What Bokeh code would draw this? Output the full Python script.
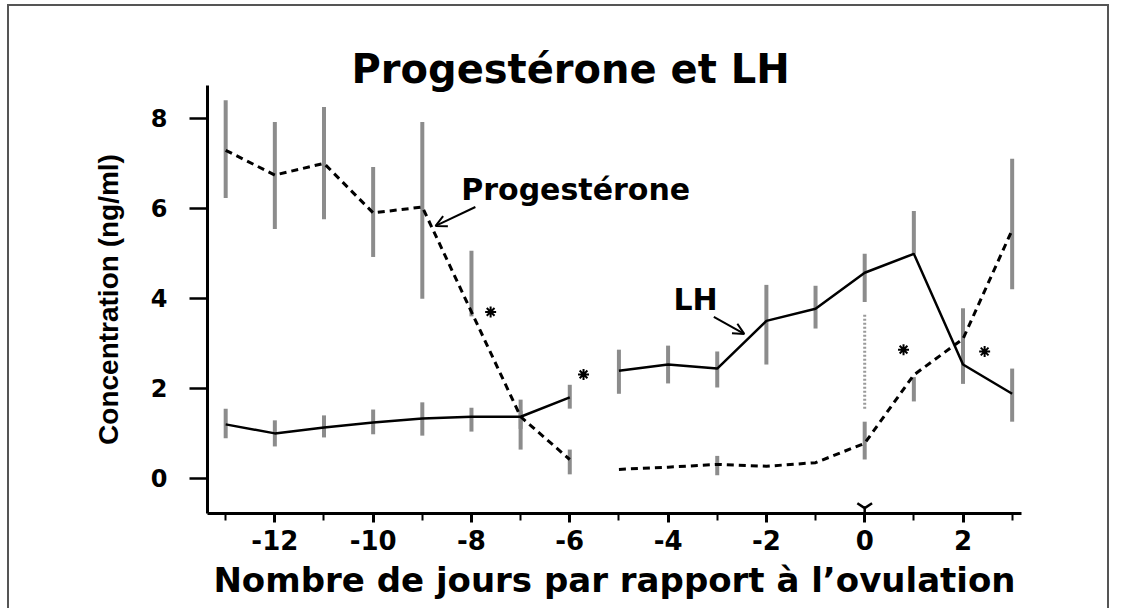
from bokeh.plotting import figure
from bokeh.models import (Range1d, SingleIntervalTicker, FixedTicker, Label, Arrow,
                          OpenHead)
from bokeh.embed import file_html
from bokeh.resources import INLINE

# ---------------- data ----------------
x_ticks = [-12, -10, -8, -6, -4, -2, 0, 2]
x_tick_labels = ["-12", "-10", "-8", "-6", "-4", "-2", "0", "2"]
y_ticks = [0, 2, 4, 6, 8]
y_tick_labels = ["0", "2", "4", "6", "8"]

# LH (solid line), two segments
lh_days_early = [-13, -12, -11, -10, -9, -8, -7, -6]
lh_early = [1.20, 1.00, 1.13, 1.24, 1.33, 1.37, 1.37, 1.80]
lh_early_low = [0.89, 0.71, 0.91, 0.98, 0.95, 1.04, 1.10, 1.55]
lh_early_high = [1.55, 1.29, 1.40, 1.53, 1.69, 1.57, 1.75, 2.08]

lh_days_late = [-5, -4, -3, -2, -1, 0, 1, 2, 3]
lh_late = [2.39, 2.53, 2.44, 3.50, 3.77, 4.57, 4.99, 2.53, 1.88]
lh_late_low = [1.88, 2.11, 2.02, 2.53, 3.33, 3.92, 4.99, 2.10, 1.26]
lh_late_high = [2.86, 2.95, 2.82, 4.30, 4.28, 4.99, 5.94, 2.90, 2.44]

# Progesterone (dashed line), two segments
prog_days_early = [-13, -12, -11, -10, -9, -8, -7, -6]
prog_early = [7.29, 6.74, 7.00, 5.90, 6.03, 3.70, 1.37, 0.42]
prog_early_low = [6.23, 5.54, 5.76, 4.92, 3.99, 3.60, 0.64, 0.09]
prog_early_high = [8.40, 7.92, 8.25, 6.92, 7.92, 5.06, 1.50, 0.64]

prog_days_late = [-5, -4, -3, -2, -1, 0, 1, 2, 3]
prog_late = [0.20, 0.25, 0.31, 0.27, 0.35, 0.78, 2.30, 3.10, 5.52]
prog_bar_days_late = [-3, 0, 1, 2, 3]
prog_late_low = [0.07, 0.42, 1.71, 2.55, 4.20]
prog_late_high = [0.50, 1.26, 2.25, 3.78, 7.10]

# significance stars
star_days = [-7.61, -5.72, 0.79, 2.44]
star_vals = [3.70, 2.31, 2.86, 2.82]

# ovulation (day 0) marker
ovulation_day = [0]
ovulation_line_low = [1.55]
ovulation_line_high = [3.64]
ovulation_mark = [-0.66]

# ---------------- figure ----------------
p = figure(width=1102, height=604,
           x_range=Range1d(-13.37, 3.19), y_range=Range1d(-0.78, 8.73),
           output_backend="svg", toolbar_location=None,
           min_border_left=198, min_border_right=90,
           min_border_top=79, min_border_bottom=97)
p.styles = {"margin-left": "7px", "margin-top": "4px",
            "border-left": "2px solid #555555", "border-top": "2px solid #555555",
            "border-right": "2px solid #555555"}
p.background_fill_color = "white"
p.border_fill_color = "white"
p.outline_line_color = None
p.grid.visible = False

# title
p.title.text = "Progestérone et LH"
p.title.align = "left"
p.title.offset = 144
p.title.standoff = -13
p.title.text_font = "DejaVu Sans"
p.title.text_font_style = "bold"
p.title.text_font_size = "40px"
p.title.text_color = "black"

# x axis
xa = p.xaxis[0]
xa.ticker = SingleIntervalTicker(interval=2, num_minor_ticks=2)
xa.major_label_overrides = {t: l for t, l in zip(x_ticks, x_tick_labels)}
xa.axis_line_width = 3
xa.axis_line_color = "black"
xa.major_tick_in = 0
xa.major_tick_out = 9
xa.major_tick_line_width = 3
xa.minor_tick_in = 0
xa.minor_tick_out = 7
xa.minor_tick_line_width = 2
xa.major_label_text_font = "DejaVu Sans"
xa.major_label_text_font_style = "bold"
xa.major_label_text_font_size = "26px"
xa.major_label_text_color = "black"
xa.major_label_standoff = 7
xa.axis_label = "Nombre de jours par rapport à l\u2019ovulation"
xa.axis_label_text_font = "DejaVu Sans"
xa.axis_label_text_font_style = "bold"
xa.axis_label_text_font_size = "34px"
xa.axis_label_text_color = "black"
xa.axis_label_standoff = 7

# y axis
ya = p.yaxis[0]
ya.ticker = FixedTicker(ticks=y_ticks, minor_ticks=[])
ya.major_label_overrides = {t: l for t, l in zip(y_ticks, y_tick_labels)}
ya.axis_line_width = 3
ya.axis_line_color = "black"
ya.major_tick_in = 0
ya.major_tick_out = 18
ya.major_tick_line_width = 2.5
ya.minor_tick_line_color = None
ya.major_label_text_font = "DejaVu Sans"
ya.major_label_text_font_style = "bold"
ya.major_label_text_font_size = "24px"
ya.major_label_text_color = "black"
ya.major_label_standoff = 22
ya.axis_label = "Concentration (ng/ml)"
ya.axis_label_text_font = "Liberation Sans"
ya.axis_label_text_font_style = "bold"
ya.axis_label_text_font_size = "28px"
ya.axis_label_text_color = "black"
ya.axis_label_standoff = 24

bar_color = "#8c8c8c"
# error bars
p.segment(x0=lh_days_early, y0=lh_early_low, x1=lh_days_early, y1=lh_early_high,
          line_color=bar_color, line_width=4)
p.segment(x0=lh_days_late, y0=lh_late_low, x1=lh_days_late, y1=lh_late_high,
          line_color=bar_color, line_width=4)
p.segment(x0=prog_days_early, y0=prog_early_low, x1=prog_days_early, y1=prog_early_high,
          line_color=bar_color, line_width=4)
p.segment(x0=prog_bar_days_late, y0=prog_late_low, x1=prog_bar_days_late, y1=prog_late_high,
          line_color=bar_color, line_width=4)

# ovulation dotted line
p.segment(x0=ovulation_day, y0=ovulation_line_low, x1=ovulation_day, y1=ovulation_line_high,
          line_color="#9a9a9a", line_width=3, line_dash="2 2")

# lines
p.line(lh_days_early, lh_early, line_color="black", line_width=2.5)
p.line(lh_days_late, lh_late, line_color="black", line_width=2.5)
p.line(prog_days_early, prog_early, line_color="black", line_width=3, line_dash="7 5")
p.line(prog_days_late, prog_late, line_color="black", line_width=3, line_dash="7 5")

# stars
p.scatter(star_days, star_vals, marker="asterisk", size=11, line_color="black", line_width=2)

# ovulation mark
p.scatter(ovulation_day, ovulation_mark, marker="y", size=17, line_color="black", line_width=2.5)

# annotations
p.add_layout(Label(x=-5.88, y=6.41, text="Progestérone", text_align="center",
                   text_baseline="middle", text_font="DejaVu Sans", text_font_style="bold",
                   text_font_size="30px", text_color="black"))
p.add_layout(Arrow(end=OpenHead(size=11, line_width=2), x_start=-7.92, y_start=6.03,
                   x_end=-8.73, y_end=5.61, line_width=2, line_color="black"))
p.add_layout(Label(x=-3.44, y=3.97, text="LH", text_align="center",
                   text_baseline="middle", text_font="DejaVu Sans", text_font_style="bold",
                   text_font_size="30px", text_color="black"))
p.add_layout(Arrow(end=OpenHead(size=11, line_width=2), x_start=-3.07, y_start=3.59,
                   x_end=-2.45, y_end=3.21, line_width=2, line_color="black"))

open("out.html", "w").write(file_html(p, INLINE))
